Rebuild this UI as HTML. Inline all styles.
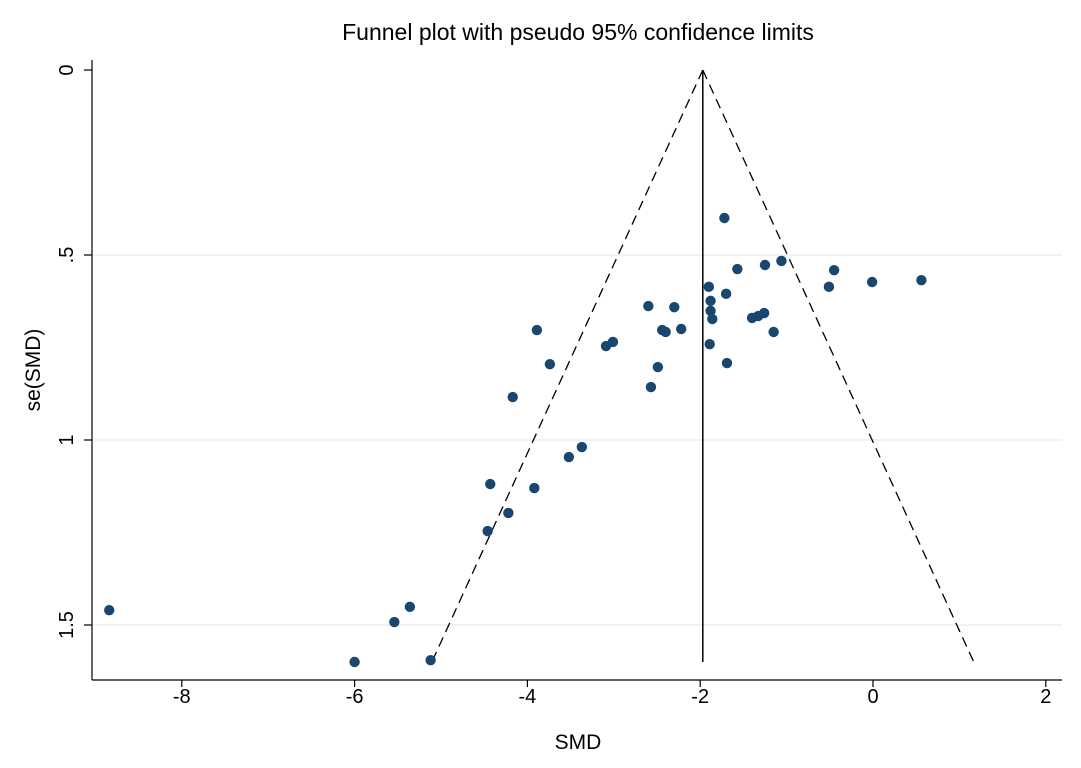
<!DOCTYPE html>
<html><head><meta charset="utf-8"><style>
body{margin:0;background:#fff}
svg text{font-family:"Liberation Sans",Arial,sans-serif;fill:#000}
</style></head><body>
<svg id="chart" width="1081" height="763" xmlns="http://www.w3.org/2000/svg">
<rect width="1081" height="763" fill="#fff"/>
<text x="578" y="40" font-size="23" text-anchor="middle">Funnel plot with pseudo 95% confidence limits</text>
<g id="grid"></g><g id="axes"></g><g id="funnel"></g><g id="pts"></g>
<text x="578" y="749" font-size="21" text-anchor="middle">SMD</text>
<text transform="translate(40,370) rotate(-90)" font-size="21" text-anchor="middle">se(SMD)</text>
</svg>
<script>
const smd=[-8.84,-1.72,-1.06,-1.25,-1.57,-0.45,0.56,-0.01,-0.51,-1.90,-1.70,-1.88,-2.60,-2.30,-1.88,-1.86,-1.26,-1.33,-1.40,-2.22,-2.44,-2.40,-3.89,-1.15,-3.01,-3.09,-1.89,-3.74,-2.49,-1.69,-2.57,-4.17,-3.37,-3.52,-4.43,-3.92,-4.22,-4.46,-5.36,-5.54,-6.00,-5.12];
const se=[1.46,0.40,0.516,0.527,0.538,0.541,0.568,0.573,0.586,0.586,0.605,0.624,0.638,0.641,0.651,0.673,0.657,0.665,0.670,0.70,0.703,0.708,0.703,0.708,0.735,0.746,0.741,0.795,0.803,0.792,0.857,0.884,1.019,1.046,1.119,1.130,1.197,1.246,1.451,1.492,1.600,1.595];
const xTicks=[-8,-6,-4,-2,0,2];
const yTicks=[0,0.5,1,1.5];
const yTickLabels=["0",".5","1","1.5"];
const pooled=-1.97, maxSe=1.6;
const NS="http://www.w3.org/2000/svg";
const X=v=>873+v*86.4, Y=v=>70+v*370;
function mk(p,t,a){const e=document.createElementNS(NS,t);for(const k in a)e.setAttribute(k,a[k]);document.getElementById(p).appendChild(e);return e;}
yTicks.forEach((t,i)=>{
 if(t>0){const g=mk('grid','line',{x1:93,x2:1062,y1:Y(t),y2:Y(t),stroke:'#e6eff1','stroke-width':1.5});
 
 }
 const tk=mk('axes','line',{x1:84,x2:92,y1:Y(t),y2:Y(t),stroke:'#000','stroke-width':1.2});
 
 
 const tx=mk('axes','text',{transform:`translate(73,${Y(t)}) rotate(-90)`,'font-size':20,'text-anchor':'middle'});
 tx.textContent=yTickLabels[i];
 
 
});
const ya=mk('axes','line',{x1:92,x2:92,y1:60,y2:680,stroke:'#000','stroke-width':1.2});


const xa=mk('axes','line',{x1:92,x2:1062,y1:680,y2:680,stroke:'#000','stroke-width':1.2});


xTicks.forEach(t=>{
 const tk=mk('axes','line',{x1:X(t),x2:X(t),y1:680,y2:687,stroke:'#000','stroke-width':1.2});
 
 
 const tx=mk('axes','text',{x:X(t),y:703,'font-size':20,'text-anchor':'middle'});
 tx.textContent=t<0?'-'+Math.abs(t):String(t);
 
 
});
const vl=mk('funnel','line',{x1:X(pooled),x2:X(pooled),y1:Y(0),y2:Y(maxSe),stroke:'#000','stroke-width':1.5});


const l1=mk('funnel','line',{x1:X(pooled),y1:Y(0),x2:X(pooled-1.96*maxSe),y2:Y(maxSe),stroke:'#000','stroke-width':1.3,'stroke-dasharray':'10,6'});


const l2=mk('funnel','line',{x1:X(pooled),y1:Y(0),x2:X(pooled+1.96*maxSe),y2:Y(maxSe),stroke:'#000','stroke-width':1.3,'stroke-dasharray':'10,6'});


smd.forEach((v,i)=>{
 const c=mk('pts','circle',{cx:X(v),cy:Y(se[i]),r:5.2,fill:'#1a476f'});
 
 
});
</script>
</body></html>
